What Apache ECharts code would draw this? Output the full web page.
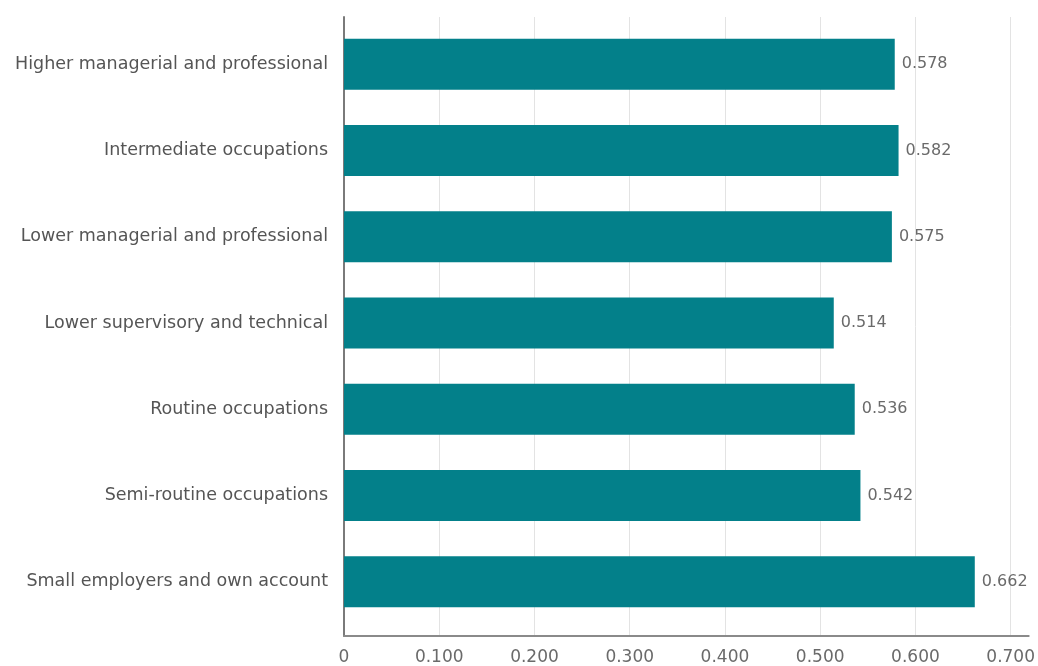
<!DOCTYPE html>
<html>
<head>
<meta charset="utf-8">
<script src="https://cdn.jsdelivr.net/npm/echarts@6/dist/echarts.min.js"></script>
<style>
  html, body { margin: 0; padding: 0; background: #fff; }
  #chart { width: 1038px; height: 666px; }
</style>
</head>
<body>
<div id="chart"></div>
<script>
// Occupational groups, top to bottom
const categories = [
  'Higher managerial and professional',
  'Intermediate occupations',
  'Lower managerial and professional',
  'Lower supervisory and technical',
  'Routine occupations',
  'Semi-routine occupations',
  'Small employers and own account'
];
const values = [0.578, 0.582, 0.575, 0.514, 0.536, 0.542, 0.662];
const xTicks = [0, 0.1, 0.2, 0.3, 0.4, 0.5, 0.6, 0.7];
const xMax = 0.7189;

const chart = echarts.init(document.getElementById('chart'), null, { renderer: 'canvas' });
const font = 'DejaVu Sans, Verdana, sans-serif';

chart.setOption({
  animation: false,
  backgroundColor: '#ffffff',
  grid: [
    // frame: axis lines, vertical grid lines and tick labels
    { left: 344, right: 9, top: 17, bottom: 29, containLabel: false },
    // bars and category labels
    { left: 344, right: 9, top: 21, bottom: 41, containLabel: false }
  ],
  xAxis: [
    {
      gridIndex: 0,
      type: 'value',
      min: 0,
      max: xMax,
      axisLine: { show: true, onZero: false, lineStyle: { color: '#8a8a8a', width: 2 } },
      axisTick: { show: false, customValues: xTicks },
      splitLine: { show: true, lineStyle: { color: '#e3e3e3', width: 1 } },
      axisLabel: {
        customValues: xTicks,
        margin: 13,
        color: '#6a6a6a',
        fontFamily: font,
        fontSize: 17,
        formatter: v => (v === 0 ? '0' : v.toFixed(3))
      }
    },
    {
      gridIndex: 1,
      type: 'value',
      min: 0,
      max: xMax,
      show: false
    }
  ],
  yAxis: [
    {
      gridIndex: 0,
      type: 'value',
      min: 0,
      max: 1,
      axisLine: { show: true, onZero: false, lineStyle: { color: '#7a7a7a', width: 2 } },
      axisTick: { show: false },
      axisLabel: { show: false },
      splitLine: { show: false }
    },
    {
      gridIndex: 1,
      type: 'category',
      inverse: true,
      data: categories,
      axisLine: { show: false },
      axisTick: { show: false },
      splitLine: { show: false },
      axisLabel: {
        margin: 16,
        color: '#555555',
        fontFamily: font,
        fontSize: 17.5,
        padding: [8, 0, 0, 0]
      }
    }
  ],
  series: [{
    type: 'bar',
    xAxisIndex: 1,
    yAxisIndex: 1,
    barWidth: 51,
    data: values,
    itemStyle: { color: '#03808a' },
    label: {
      show: true,
      position: 'right',
      distance: 7,
      color: '#6a6a6a',
      fontFamily: font,
      fontSize: 16,
      padding: [4, 0, 0, 0],
      formatter: p => p.value.toFixed(3)
    }
  }]
});
</script>
</body>
</html>
